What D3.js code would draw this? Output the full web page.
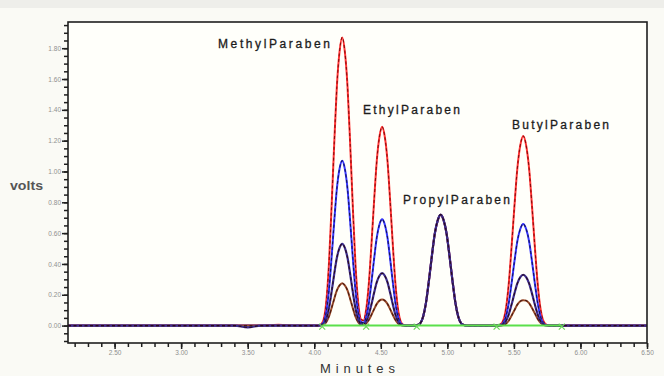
<!DOCTYPE html>
<html>
<head>
<meta charset="utf-8">
<script src="https://cdn.jsdelivr.net/npm/d3@7"></script>
<style>
  html, body { margin: 0; padding: 0; background: #fafaf5; }
  svg { display: block; }
</style>
</head>
<body>
<svg id="chart" width="664" height="376"></svg>
<script>
// ---- Data (minutes, volts) ----
const times = [2.15, 3.40, 3.50, 3.60, 3.73, 3.86, 4.00,
  4.03, 4.05, 4.07, 4.09, 4.11, 4.13, 4.15, 4.17, 4.19, 4.21, 4.23, 4.25, 4.27, 4.29, 4.31, 4.33, 4.35, 4.37,
  4.39, 4.41, 4.43, 4.45, 4.47, 4.49, 4.51, 4.53, 4.55, 4.57, 4.59, 4.61, 4.63, 4.65, 4.67, 4.69,
  4.752, 4.774, 4.796, 4.818, 4.840, 4.862, 4.884, 4.906, 4.928, 4.950, 4.972, 4.994, 5.016, 5.038, 5.060, 5.082, 5.104, 5.126, 5.148,
  5.372, 5.394, 5.416, 5.438, 5.460, 5.482, 5.504, 5.526, 5.548, 5.570, 5.592, 5.614, 5.636, 5.658, 5.680, 5.702, 5.724, 5.746, 5.768,
  6.50];

const redTrace = [0, 0, 0, 0, 0.006, 0, 0,
  0, 0.007, 0.037, 0.150, 0.393, 0.767, 1.178, 1.552, 1.777, 1.87, 1.777, 1.552, 1.178, 0.767, 0.393, 0.150, 0.042, 0.033,
  0.103, 0.271, 0.529, 0.813, 1.071, 1.226, 1.29, 1.226, 1.071, 0.813, 0.529, 0.271, 0.103, 0.026, 0.005, 0,
  0, 0.003, 0.014, 0.058, 0.151, 0.295, 0.454, 0.598, 0.684, 0.72, 0.684, 0.598, 0.454, 0.295, 0.151, 0.058, 0.014, 0.003, 0,
  0, 0.005, 0.025, 0.098, 0.258, 0.504, 0.775, 1.021, 1.169, 1.23, 1.169, 1.021, 0.775, 0.504, 0.258, 0.098, 0.025, 0.005, 0,
  0];

const blueTrace = [0, 0, 0, 0, 0, 0, 0,
  0, 0.004, 0.021, 0.086, 0.225, 0.439, 0.674, 0.888, 1.017, 1.07, 1.017, 0.888, 0.674, 0.439, 0.225, 0.086, 0.024, 0.018,
  0.055, 0.145, 0.283, 0.435, 0.573, 0.656, 0.69, 0.656, 0.573, 0.435, 0.283, 0.145, 0.055, 0.014, 0.003, 0,
  0, 0.003, 0.014, 0.058, 0.151, 0.295, 0.454, 0.598, 0.684, 0.72, 0.684, 0.598, 0.454, 0.295, 0.151, 0.058, 0.014, 0.003, 0,
  0, 0.003, 0.013, 0.053, 0.139, 0.271, 0.416, 0.548, 0.627, 0.66, 0.627, 0.548, 0.416, 0.271, 0.139, 0.053, 0.013, 0.003, 0,
  0];

const navyTrace = [0, 0, -0.012, 0, 0, 0, 0,
  0, 0.002, 0.011, 0.042, 0.111, 0.217, 0.334, 0.440, 0.504, 0.53, 0.504, 0.440, 0.334, 0.217, 0.111, 0.042, 0.012, 0.009,
  0.027, 0.071, 0.139, 0.214, 0.282, 0.323, 0.34, 0.323, 0.282, 0.214, 0.139, 0.071, 0.027, 0.007, 0.001, 0,
  0, 0.003, 0.014, 0.058, 0.151, 0.295, 0.454, 0.598, 0.684, 0.72, 0.684, 0.598, 0.454, 0.295, 0.151, 0.058, 0.014, 0.003, 0,
  0, 0.001, 0.007, 0.026, 0.069, 0.135, 0.208, 0.274, 0.314, 0.33, 0.314, 0.274, 0.208, 0.135, 0.069, 0.026, 0.007, 0.001, 0,
  0];

const brownTrace = [0, 0, 0, 0, 0, 0, 0,
  0, 0.001, 0.006, 0.022, 0.058, 0.113, 0.173, 0.228, 0.261, 0.275, 0.261, 0.228, 0.173, 0.113, 0.058, 0.022, 0.006, 0.004,
  0.014, 0.036, 0.070, 0.107, 0.141, 0.162, 0.17, 0.162, 0.141, 0.107, 0.070, 0.036, 0.014, 0.003, 0.001, 0,
  0, 0.003, 0.014, 0.058, 0.151, 0.295, 0.454, 0.598, 0.684, 0.72, 0.684, 0.598, 0.454, 0.295, 0.151, 0.058, 0.014, 0.003, 0,
  0, 0.001, 0.002, 0.010, 0.030, 0.064, 0.100, 0.136, 0.158, 0.165, 0.162, 0.145, 0.114, 0.078, 0.042, 0.017, 0.005, 0.001, 0,
  0];

const peakNames = ["MethylParaben", "EthylParaben", "PropylParaben", "ButylParaben"];
const peakLabelTimes = [3.277, 4.366, 4.667, 5.486];
const peakLabelValues = [1.80, 1.373, 0.789, 1.276];

const integrationMarks = [4.06, 4.39, 4.77, 5.37, 5.86];

const yMajorTicks = [0.00, 0.20, 0.40, 0.60, 0.80, 1.00, 1.20, 1.40, 1.60, 1.80];
const xMajorTicks = [2.50, 3.00, 3.50, 4.00, 4.50, 5.00, 5.50, 6.00, 6.50];

// ---- Layout ----
const svg = d3.select("#chart");
const W = 664, H = 376;
const pL = 68, pR = 647, pT = 22, pB = 343;

svg.append("rect").attr("x", 0).attr("y", 0).attr("width", W).attr("height", H).attr("fill", "#fafaf5");
svg.append("rect").attr("x", 0).attr("y", 0).attr("width", W).attr("height", 8).attr("fill", "#eeeeea");

const x = d3.scaleLinear().domain([2.15, 6.5]).range([pL, pR]);
const y = d3.scaleLinear().domain([-0.113, 1.97]).range([pB, pT]);

svg.append("rect").attr("x", pL).attr("y", pT).attr("width", pR - pL).attr("height", pB - pT)
  .attr("fill", "#fffffa");

const plot = svg.append("g");
const line = d3.line().x(d => x(d[0])).y(d => y(d[1])).curve(d3.curveMonotoneX);

// drawing order: red, blue, brown, navy (navy ends up on top where all traces coincide)
const traces = [
  { vals: redTrace, solid: "#ff3535", dash: "#8b0a0a", w: 2 },
  { vals: blueTrace, solid: "#3535ff", dash: "#14145a", w: 2 },
  { vals: brownTrace, solid: "#9a4a2a", dash: "#4a1a12", w: 2 },
  { vals: navyTrace, solid: "#3c2c8c", dash: "#2a0a1a", w: 2.2 }
];

traces.forEach(t => {
  const pts = times.map((tm, i) => [tm, t.vals[i]]);
  plot.append("path").attr("d", line(pts)).attr("fill", "none")
    .attr("stroke", t.solid).attr("stroke-width", t.w);
  plot.append("path").attr("d", line(pts)).attr("fill", "none")
    .attr("stroke", t.dash).attr("stroke-width", 1.1).attr("stroke-dasharray", "3,2.5");
});

// integration baseline in green
plot.append("line")
  .attr("x1", x(integrationMarks[0])).attr("x2", x(integrationMarks[integrationMarks.length - 1]))
  .attr("y1", y(0)).attr("y2", y(0))
  .attr("stroke", "#5be04a").attr("stroke-width", 2);
integrationMarks.forEach(t => {
  const cx = x(t), cy = y(0) + 1;
  plot.append("path")
    .attr("d", `M${cx - 3},${cy - 3}L${cx + 3},${cy + 3}M${cx - 3},${cy + 3}L${cx + 3},${cy - 3}`)
    .attr("stroke", "#6bd85a").attr("stroke-width", 1.2);
});

// frame
svg.append("rect").attr("x", pL).attr("y", pT).attr("width", pR - pL).attr("height", pB - pT)
  .attr("fill", "none").attr("stroke", "#1e1e1e").attr("stroke-width", 1.6);

// ---- Axes ----
const yMinor = svg.append("g").attr("transform", `translate(${pL},0)`)
  .call(d3.axisLeft(y).tickValues(d3.range(-0.10, 1.96, 0.05)).tickSize(4).tickFormat(""));
const yMajor = svg.append("g").attr("transform", `translate(${pL},0)`)
  .call(d3.axisLeft(y).tickValues(yMajorTicks).tickSize(6).tickPadding(1).tickFormat(d3.format(".2f")));
const xMinor = svg.append("g").attr("transform", `translate(0,${pB})`)
  .call(d3.axisBottom(x).tickValues(d3.range(2.2, 6.51, 0.1)).tickSize(4).tickFormat(""));
const xMajor = svg.append("g").attr("transform", `translate(0,${pB})`)
  .call(d3.axisBottom(x).tickValues(xMajorTicks).tickSize(6).tickPadding(1).tickFormat(d3.format(".2f")));

[yMinor, yMajor, xMinor, xMajor].forEach(g => {
  g.select(".domain").remove();
  g.selectAll(".tick line").attr("stroke", "#1e1e1e").attr("stroke-width", 1.5);
  g.selectAll(".tick text").attr("fill", "#8f8f8f").attr("font-size", 6.5)
    .attr("font-family", "Liberation Sans, Arial, sans-serif");
});

// ---- Labels ----
svg.append("text").text("volts").attr("x", 10).attr("y", 190)
  .attr("font-family", "Liberation Sans, Arial, sans-serif").attr("font-size", 13)
  .attr("font-weight", "bold").attr("fill", "#555").attr("textLength", 33).attr("lengthAdjust", "spacingAndGlyphs");

svg.append("text").text("Minutes").attr("x", 320).attr("y", 373)
  .attr("font-family", "Liberation Sans, Arial, sans-serif").attr("font-size", 13)
  .attr("fill", "#333").attr("textLength", 75).attr("lengthAdjust", "spacing");

const labelLens = [112, 97, 107, 97];
peakNames.forEach((n, i) => {
  svg.append("text").text(n)
    .attr("x", x(peakLabelTimes[i])).attr("y", y(peakLabelValues[i]))
    .attr("font-family", "Liberation Sans, Arial, sans-serif").attr("font-size", 12)
    .attr("fill", "#1c1c1c").attr("stroke", "#1c1c1c").attr("stroke-width", 0.3)
    .attr("textLength", labelLens[i]).attr("lengthAdjust", "spacing");
});
</script>
</body>
</html>
